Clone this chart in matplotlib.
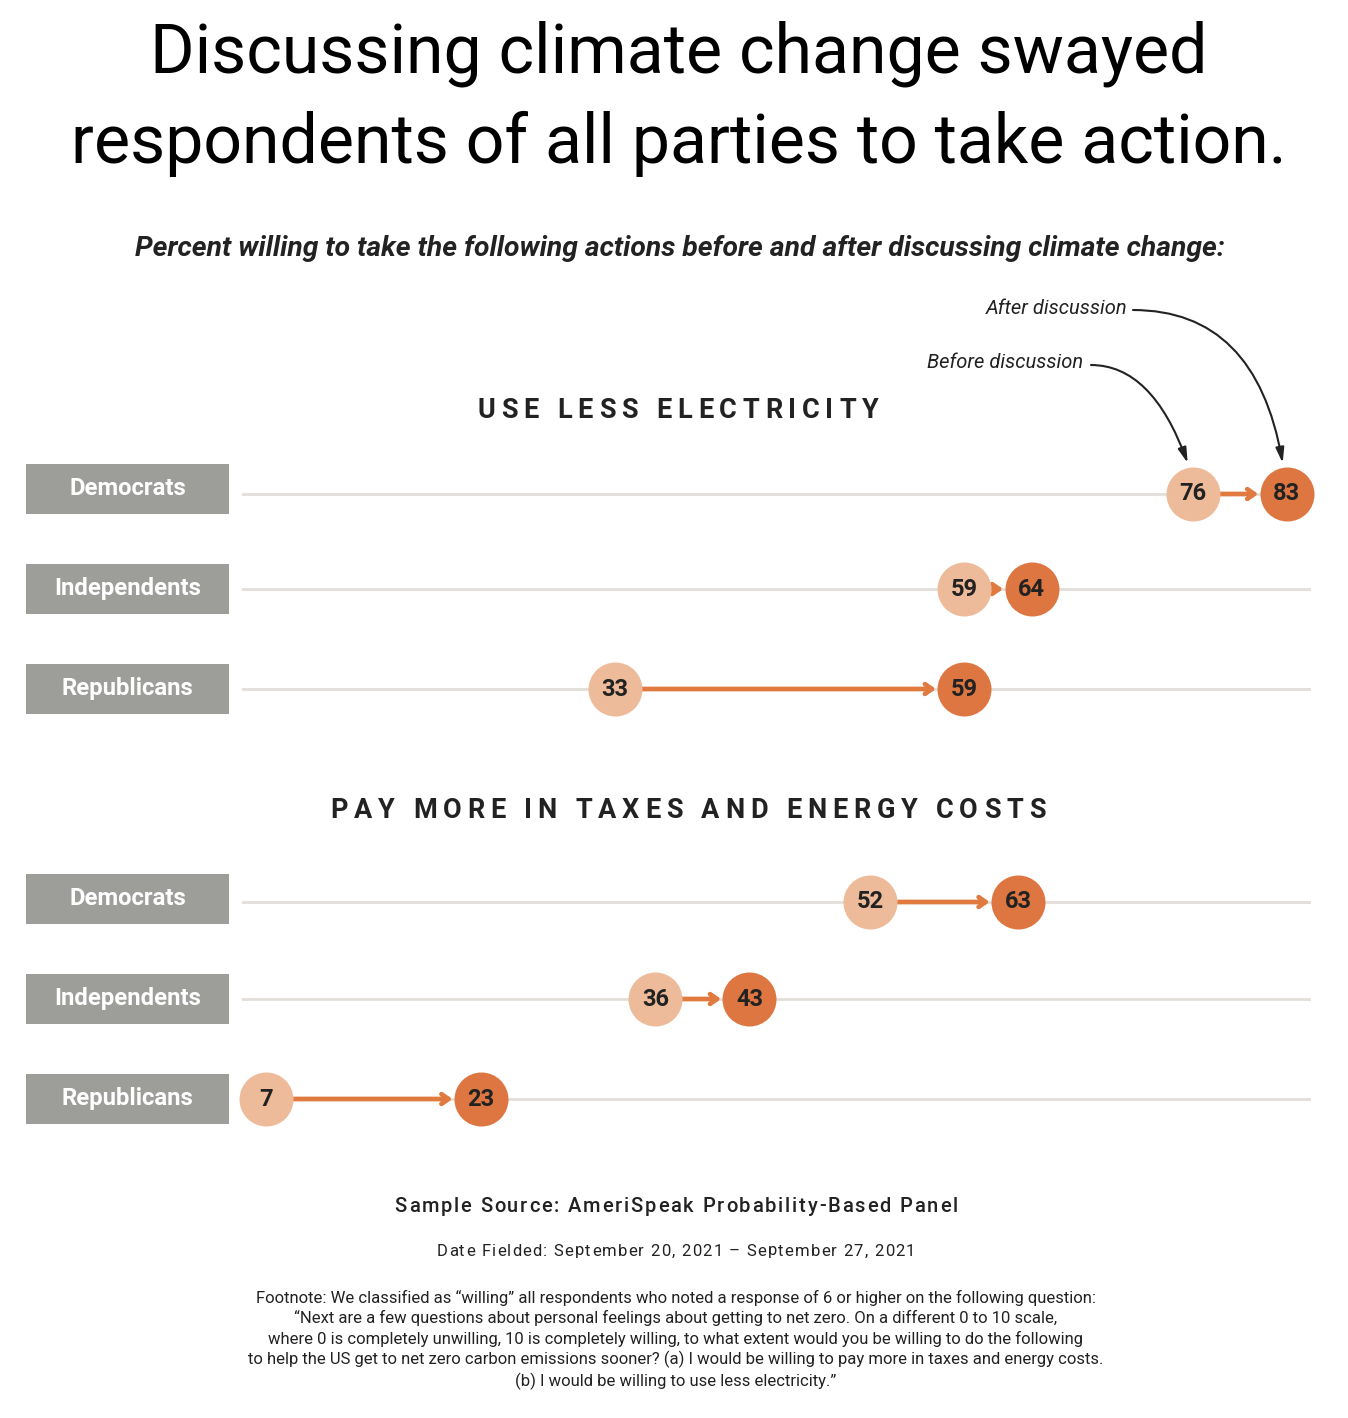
import matplotlib
matplotlib.use("Agg")
import matplotlib.pyplot as plt
from matplotlib.patches import Rectangle
from matplotlib.font_manager import FontProperties

plt.rcParams['font.family'] = ['Roboto', 'DejaVu Sans']

# data
sections = ["USE LESS ELECTRICITY", "PAY MORE IN TAXES AND ENERGY COSTS"]
parties = ["Democrats", "Independents", "Republicans"]
before = [[76, 59, 33], [52, 36, 7]]
after = [[83, 64, 59], [63, 43, 23]]

title = "Discussing climate change swayed\nrespondents of all parties to take action."
subtitle = "Percent willing to take the following actions before and after discussing climate change:"
source = "Sample Source: AmeriSpeak Probability-Based Panel"
fielded = "Date Fielded: September 20, 2021 \u2013 September 27, 2021"
footnote = ("Footnote: We classified as \u201cwilling\u201d all respondents who noted a response of 6 or higher on the following question:\n"
            "\u201cNext are a few questions about personal feelings about getting to net zero. On a different 0 to 10 scale,\n"
            "where 0 is completely unwilling, 10 is completely willing, to what extent would you be willing to do the following\n"
            "to help the US get to net zero carbon emissions sooner? (a) I would be willing to pay more in taxes and energy costs.\n"
            "(b) I would be willing to use less electricity.\u201d")

# colours
c_before = "#EDBB99"
c_after = "#DE7641"
c_arrow = "#E07A3E"
c_grid = "#E2DFDB"
c_box = "#9D9E9A"
c_text = "#222222"

W, H = 1348, 1418
fig = plt.figure(figsize=(W / 100, H / 100), dpi=100)

# overlay in pixel coordinates for text and label boxes
bg = fig.add_axes([0, 0, 1, 1])
bg.set_xlim(0, W)
bg.set_ylim(H, 0)
bg.axis('off')

# data axes: x in percent, y in pixel rows
x0, x1 = 242, 1311
px_per = 13.43
px_zero = 172
ax = fig.add_axes([x0 / W, 0, (x1 - x0) / W, 1])
ax.set_xlim((x0 - px_zero) / px_per, (x1 - px_zero) / px_per)
ax.set_ylim(H, 0)
ax.axis('off')

row_y = [[494, 589, 689], [902, 999, 1099]]
box_top = [[464, 564, 664], [874, 974, 1074]]
head_y = [410, 810]
head_x = [678, 688]
radius_pt = 27 * 0.72
s_marker = (2 * radius_pt) ** 2

renderer = fig.canvas.get_renderer()


def spaced_text(xc, y, s, size, weight, spacing, color):
    prop = FontProperties(family='Roboto', size=size, weight=weight)
    widths = []
    for ch in s:
        if ch == ' ':
            w = renderer.get_text_width_height_descent('a a', prop, False)[0] - \
                renderer.get_text_width_height_descent('aa', prop, False)[0]
        else:
            w = renderer.get_text_width_height_descent(ch, prop, False)[0]
        widths.append(w)
    total = sum(widths) + spacing * (len(s) - 1)
    x = xc - total / 2
    for ch, w in zip(s, widths):
        bg.text(x, y, ch, fontproperties=prop, color=color, ha='left', va='center')
        x += w + spacing


bg.text(679, 99, title, ha='center', va='center', fontsize=49, color='black',
        linespacing=1.45)
bg.text(680, 248, subtitle, ha='center', va='center', fontsize=20.3,
        fontweight='bold', style='italic', color=c_text)

for k in range(2):
    spaced_text(head_x[k], head_y[k], sections[k], 19.5, 'bold', 5.8, c_text)
    for i, party in enumerate(parties):
        y = row_y[k][i]
        top = box_top[k][i]
        bg.add_patch(Rectangle((26, top), 203, 50, color=c_box, lw=0))
        bg.text(127.5, top + 24.5, party, ha='center', va='center', fontsize=17.2,
                fontweight='bold', color='white')
        ax.axhline(y, color=c_grid, lw=2, zorder=1)
        b, a = before[k][i], after[k][i]
        ax.annotate("", xy=(a, y), xytext=(b, y),
                    arrowprops=dict(arrowstyle="->,head_length=0.5,head_width=0.35",
                                    color=c_arrow, lw=3.4, shrinkA=radius_pt,
                                    shrinkB=radius_pt + 1, capstyle='round',
                                    joinstyle='round'),
                    zorder=2)
        ax.scatter([b], [y], s=s_marker, color=c_before, zorder=3, clip_on=False, lw=0)
        ax.scatter([a], [y], s=s_marker, color=c_after, zorder=4, clip_on=False, lw=0)
        ax.text(b, y, str(b), ha='center', va='center', fontsize=17,
                fontweight='bold', color=c_text, zorder=5)
        ax.text(a, y, str(a), ha='center', va='center', fontsize=17,
                fontweight='bold', color=c_text, zorder=5)

# annotation arrows for the first row
y_top = row_y[0][0] - 31
bg.text(1127, 308, "After discussion", ha='right', va='center', fontsize=14.5,
        style='italic', color=c_text)
bg.text(1083, 363, "Before discussion", ha='right', va='center', fontsize=14.5,
        style='italic', color=c_text)
xa = px_zero + px_per * after[0][0] - 4
xb = px_zero + px_per * before[0][0] - 5
bg.annotate("", xy=(xa, y_top), xytext=(1133, 310),
            arrowprops=dict(arrowstyle="-|>,head_length=0.9,head_width=0.25",
                            color=c_text, lw=1.5, shrinkA=0, shrinkB=0,
                            connectionstyle="angle3,angleA=0,angleB=100"))
bg.annotate("", xy=(xb, y_top), xytext=(1091, 365),
            arrowprops=dict(arrowstyle="-|>,head_length=0.9,head_width=0.25",
                            color=c_text, lw=1.5, shrinkA=0, shrinkB=0,
                            connectionstyle="angle3,angleA=0,angleB=110"))

spaced_text(676, 1206, source, 14.5, 'medium', 1.8, c_text)
spaced_text(676, 1251, fielded, 12, 'normal', 1.2, c_text)
bg.text(676, 1340, footnote, ha='center', va='center', fontsize=12,
        color=c_text, linespacing=1.32)

fig.savefig("out.png", dpi=100)
